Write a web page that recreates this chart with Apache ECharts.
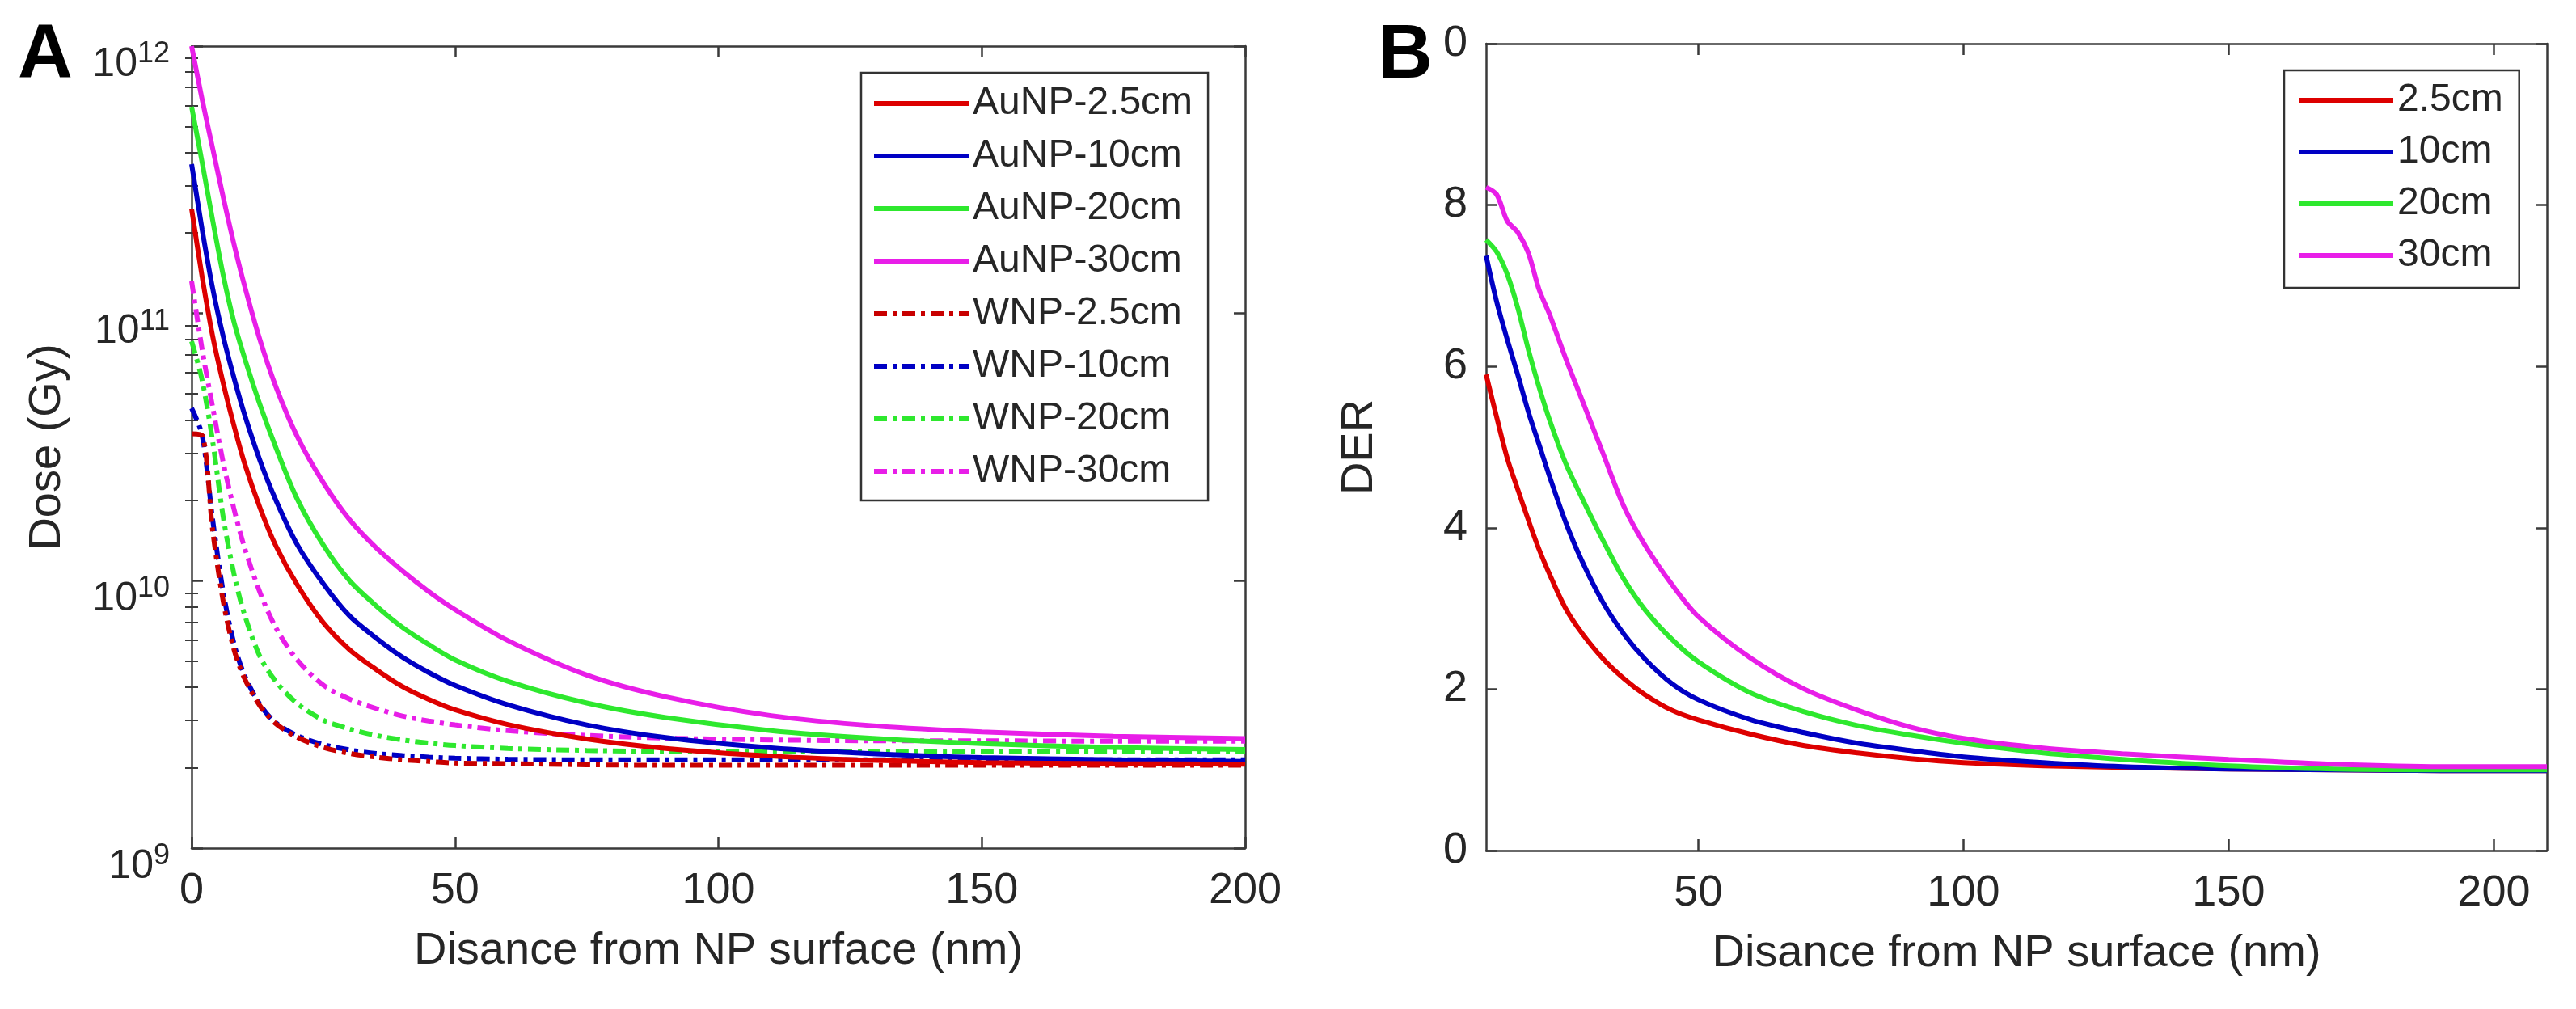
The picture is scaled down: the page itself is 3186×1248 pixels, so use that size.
<!DOCTYPE html>
<html><head><meta charset="utf-8">
<script src="https://cdn.jsdelivr.net/npm/echarts@6/dist/echarts.min.js"></script>
<style>html,body{margin:0;padding:0;background:#fff}#c{width:3186px;height:1248px}</style>
</head><body><div id="c"></div><script>
// ---------- data ----------
const distA = [0,2,4,6,8,10,13,16,20,25,30,35,40,45,50,60,75,90,110,130,150,175,200];
const doseAuNP25 = [2.46e11,1.37e11,8.22e10,5.48e10,3.83e10,2.77e10,1.87e10,1.35e10,9.70e9,6.97e9,5.52e9,4.66e9,4.02e9,3.60e9,3.29e9,2.90e9,2.56e9,2.36e9,2.21e9,2.13e9,2.09e9,2.07e9,2.06e9];
const doseAuNP10 = [3.62e11,2.06e11,1.24e11,8.20e10,5.78e10,4.22e10,2.81e10,2.00e10,1.37e10,9.75e9,7.38e9,6.11e9,5.18e9,4.54e9,4.06e9,3.44e9,2.89e9,2.59e9,2.37e9,2.25e9,2.18e9,2.14e9,2.11e9];
const doseAuNP20 = [5.93e11,3.67e11,2.23e11,1.39e11,9.35e10,6.87e10,4.54e10,3.15e10,2.03e10,1.36e10,1.0e10,8.07e9,6.70e9,5.78e9,5.06e9,4.21e9,3.49e9,3.08e9,2.75e9,2.57e9,2.46e9,2.38e9,2.34e9];
const doseAuNP30 = [1.0e12,6.31e11,4.14e11,2.72e11,1.83e11,1.28e11,7.93e10,5.32e10,3.48e10,2.33e10,1.69e10,1.33e10,1.09e10,9.12e9,7.80e9,5.98e9,4.44e9,3.68e9,3.13e9,2.86e9,2.72e9,2.62e9,2.57e9];
const doseWNP25 = [3.55e10,3.50e10,1.54e10,8.38e9,5.57e9,4.33e9,3.40e9,2.92e9,2.60e9,2.38e9,2.26e9,2.19e9,2.14e9,2.11e9,2.08e9,2.07e9,2.05e9,2.04e9,2.04e9,2.04e9,2.04e9,2.04e9,2.04e9];
const doseWNP10 = [4.42e10,3.50e10,1.69e10,9.08e9,5.86e9,4.45e9,3.44e9,2.94e9,2.64e9,2.44e9,2.33e9,2.26e9,2.22e9,2.19e9,2.17e9,2.15e9,2.14e9,2.14e9,2.14e9,2.14e9,2.14e9,2.14e9,2.14e9];
const doseWNP20 = [7.87e10,5.62e10,3.32e10,1.73e10,1.07e10,7.52e9,5.19e9,4.20e9,3.48e9,3.01e9,2.79e9,2.64e9,2.54e9,2.47e9,2.42e9,2.36e9,2.32e9,2.30e9,2.29e9,2.29e9,2.29e9,2.29e9,2.29e9];
const doseWNP30 = [1.32e11,7.33e10,4.46e10,2.77e10,1.87e10,1.34e10,9.02e9,6.67e9,5.07e9,4.07e9,3.61e9,3.33e9,3.12e9,2.99e9,2.89e9,2.75e9,2.64e9,2.58e9,2.54e9,2.52e9,2.52e9,2.51e9,2.51e9];

const distB = [10,12,14,16,18,20,22,25,28,32,36,40,45,50,60,70,80,90,100,115,130,150,170,190,210];
const der25 = [5.9,5.37,4.86,4.47,4.09,3.73,3.42,3.00,2.70,2.38,2.13,1.93,1.74,1.62,1.44,1.30,1.21,1.14,1.09,1.05,1.03,1.01,1.00,0.99,0.99];
const der10 = [7.37,6.80,6.33,5.89,5.43,5.03,4.63,4.07,3.60,3.08,2.68,2.37,2.07,1.87,1.62,1.46,1.33,1.24,1.16,1.09,1.04,1.01,1.00,0.99,0.99];
const der20 = [7.57,7.42,7.14,6.72,6.20,5.74,5.33,4.80,4.38,3.85,3.36,2.98,2.62,2.34,1.95,1.72,1.55,1.43,1.33,1.21,1.13,1.05,1.01,1.00,1.00];
const der30 = [8.22,8.13,7.80,7.66,7.40,6.95,6.64,6.10,5.60,4.93,4.26,3.78,3.30,2.90,2.38,2.00,1.74,1.53,1.39,1.27,1.20,1.13,1.07,1.04,1.04];

const namesA = ['AuNP-2.5cm','AuNP-10cm','AuNP-20cm','AuNP-30cm','WNP-2.5cm','WNP-10cm','WNP-20cm','WNP-30cm'];
const namesB = ['2.5cm','10cm','20cm','30cm'];
const doseMajorTicks = [1e9,1e10,1e11,1e12];
const doseMinorTicks = [2e9,3e9,4e9,5e9,6e9,7e9,8e9,9e9,2e10,3e10,4e10,5e10,6e10,7e10,8e10,9e10,2e11,3e11,4e11,5e11,6e11,7e11,8e11,9e11];
const distTicksB = [50,100,150,200];

// ---------- style ----------
const FONT = '"Liberation Sans", Arial, Helvetica, sans-serif';
const INK = '#262626';
const AX = '#3a3a3a';
const RED = '#dd0000', BLUE = '#0000c4', GREEN = '#2ee82e', MAG = '#e81ee8';
const colorsA = [RED, BLUE, GREEN, MAG, '#c80000', BLUE, GREEN, MAG];
const colorsB = [RED, BLUE, GREEN, MAG];
const DASHDOT = [16, 7, 5, 7];

const axLine = {show: true, onZero: false, lineStyle: {color: AX, width: 2.5}};
const tickMajor = {show: true, inside: true, length: 14, lineStyle: {color: AX, width: 2.5}};
const tickMinor = {show: true, inside: true, length: 8, lineStyle: {color: AX, width: 2}};
const noLabel = {show: false};
const noSplit = {show: false};
const tickLabel = {fontSize: 54, color: INK, fontFamily: FONT};
const titleStyle = {fontSize: 56, color: INK, fontFamily: FONT};

const seriesA = [doseAuNP25, doseAuNP10, doseAuNP20, doseAuNP30, doseWNP25, doseWNP10, doseWNP20, doseWNP30].map((arr, i) => ({
  name: namesA[i], type: 'line', xAxisIndex: 0, yAxisIndex: 0,
  data: distA.map((x, j) => [x, arr[j]]),
  symbol: 'none', showSymbol: false, smooth: 0.3,
  lineStyle: {color: colorsA[i], width: 6, type: i >= 4 ? DASHDOT : 'solid'},
  itemStyle: {color: colorsA[i]},
  z: 10 - i
}));
const seriesB = [der25, der10, der20, der30].map((arr, i) => ({
  name: namesB[i], type: 'line', xAxisIndex: 2, yAxisIndex: 4,
  data: distB.map((x, j) => [x, arr[j]]),
  symbol: 'none', showSymbol: false, smooth: 0.3,
  lineStyle: {color: colorsB[i], width: 6},
  itemStyle: {color: colorsB[i]}
}));

const legendCommon = {
  orient: 'vertical', itemWidth: 117, itemHeight: 20, selectedMode: false,
  lineStyle: {width: 6}, itemStyle: {opacity: 0},
  textStyle: {fontSize: 48, lineHeight: 56, color: INK, fontFamily: FONT},
  borderColor: '#333', borderWidth: 2.5, backgroundColor: '#fff'
};

const option = {
  backgroundColor: '#fff',
  animation: false,
  grid: [
    {left: 237, top: 57, width: 1303, height: 992, containLabel: false},
    {left: 1838, top: 54, width: 1312, height: 998, containLabel: false}
  ],
  xAxis: [
    {gridIndex: 0, type: 'value', min: 0, max: 200, interval: 50, position: 'bottom',
     axisLine: axLine, axisTick: tickMajor, splitLine: noSplit,
     axisLabel: Object.assign({margin: 26}, tickLabel),
     name: 'Disance from NP surface (nm)', nameLocation: 'middle', nameGap: 100, nameTextStyle: titleStyle},
    {gridIndex: 0, type: 'value', min: 0, max: 200, interval: 50, position: 'top',
     axisLine: axLine, axisTick: tickMajor, splitLine: noSplit, axisLabel: noLabel},
    {gridIndex: 1, type: 'value', min: 10, max: 210, position: 'bottom',
     axisLine: axLine, axisTick: Object.assign({customValues: distTicksB}, tickMajor), splitLine: noSplit,
     axisLabel: Object.assign({margin: 26, customValues: distTicksB}, tickLabel),
     name: 'Disance from NP surface (nm)', nameLocation: 'middle', nameGap: 100, nameTextStyle: titleStyle},
    {gridIndex: 1, type: 'value', min: 10, max: 210, position: 'top',
     axisLine: axLine, axisTick: Object.assign({customValues: distTicksB}, tickMajor), splitLine: noSplit, axisLabel: noLabel}
  ],
  yAxis: [
    {gridIndex: 0, type: 'log', logBase: 10, min: 1e9, max: 1e12, position: 'left',
     axisLine: axLine, axisTick: Object.assign({customValues: doseMajorTicks}, tickMajor), splitLine: noSplit,
     axisLabel: {
       customValues: doseMajorTicks, margin: 27, padding: [40, 0, 0, 0],
       formatter: v => '{b|10}{s|' + Math.round(Math.log10(v)) + '}',
       rich: {
         b: {fontSize: 50, fontFamily: FONT, color: INK, lineHeight: 56, verticalAlign: 'bottom', padding: [7, 0, 0, 0]},
         s: {fontSize: 36, fontFamily: FONT, color: INK, lineHeight: 24, verticalAlign: 'top'}
       }
     },
     name: 'Dose (Gy)', nameLocation: 'middle', nameGap: 150, nameRotate: 90, nameTextStyle: titleStyle},
    {gridIndex: 0, type: 'log', logBase: 10, min: 1e9, max: 1e12, position: 'right',
     axisLine: axLine, axisTick: Object.assign({customValues: doseMajorTicks}, tickMajor), splitLine: noSplit, axisLabel: noLabel},
    {gridIndex: 0, type: 'log', logBase: 10, min: 1e9, max: 1e12, position: 'left',
     axisLine: {show: false}, axisTick: Object.assign({customValues: doseMinorTicks}, tickMinor), splitLine: noSplit, axisLabel: noLabel},
    {gridIndex: 0, type: 'log', logBase: 10, min: 1e9, max: 1e12, position: 'right',
     axisLine: {show: false}, axisTick: Object.assign({customValues: doseMinorTicks}, tickMinor), splitLine: noSplit, axisLabel: noLabel},
    {gridIndex: 1, type: 'value', min: 0, max: 10, interval: 2, position: 'left',
     axisLine: axLine, axisTick: tickMajor, splitLine: noSplit,
     axisLabel: Object.assign({margin: 23, formatter: v => (v === 10 ? '0' : String(v))}, tickLabel),
     name: 'DER', nameLocation: 'middle', nameGap: 128, nameRotate: 90, nameTextStyle: titleStyle},
    {gridIndex: 1, type: 'value', min: 0, max: 10, interval: 2, position: 'right',
     axisLine: axLine, axisTick: tickMajor, splitLine: noSplit, axisLabel: noLabel}
  ],
  legend: [
    Object.assign({data: namesA, left: 1065, top: 90, padding: [10, 19, 8, 13], itemGap: 9}, legendCommon),
    Object.assign({data: namesB, left: 2825, top: 87, padding: [9, 20, 12, 15], itemGap: 8}, legendCommon)
  ],
  graphic: [
    {type: 'text', x: 22, y: 70, style: {text: 'A', fontSize: 94, fontWeight: 'bold', fontFamily: FONT, fill: '#000', align: 'left', verticalAlign: 'middle'}},
    {type: 'text', x: 1704, y: 70, style: {text: 'B', fontSize: 94, fontWeight: 'bold', fontFamily: FONT, fill: '#000', align: 'left', verticalAlign: 'middle'}}
  ],
  series: seriesA.concat(seriesB)
};

const chart = echarts.init(document.getElementById('c'), null, {renderer: 'canvas'});
chart.setOption(option);
</script></body></html>
